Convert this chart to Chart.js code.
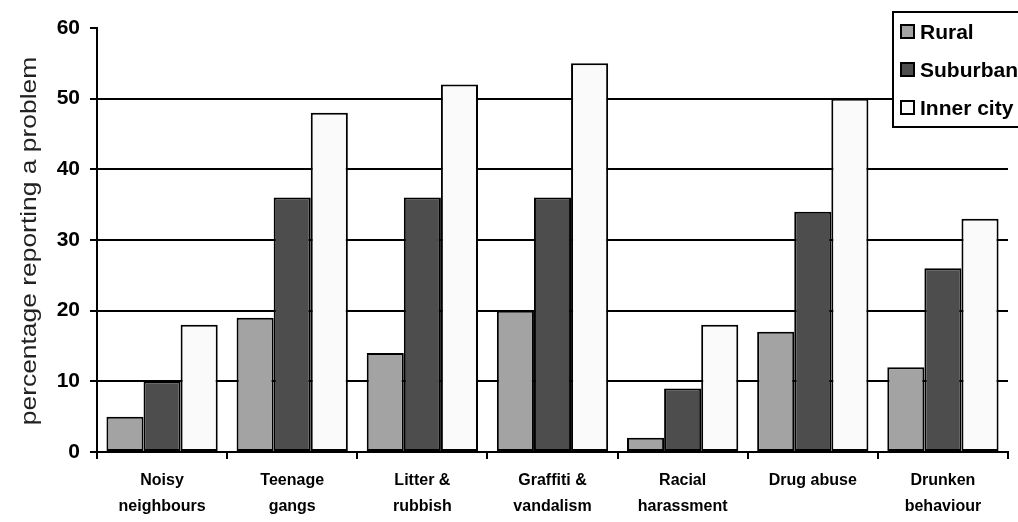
<!DOCTYPE html>
<html>
<head>
<meta charset="utf-8">
<script src="https://cdn.jsdelivr.net/npm/chart.js@4.4.1/dist/chart.umd.min.js"></script>
<style>
  html, body { margin: 0; padding: 0; background: #fff; }
  #wrap { width: 1018px; height: 522px; position: relative; }
</style>
</head>
<body>
<div id="wrap"><canvas id="c" width="1018" height="522"></canvas></div>
<script>
// Problems reported by area type (percent)
const categories = [
  ['Noisy', 'neighbours'],
  ['Teenage', 'gangs'],
  ['Litter &', 'rubbish'],
  ['Graffiti &', 'vandalism'],
  ['Racial', 'harassment'],
  ['Drug abuse'],
  ['Drunken', 'behaviour']
];
const rural    = [5, 19, 14, 20, 2, 17, 12];
const suburban = [10, 36, 36, 36, 9, 34, 26];
const innerCity = [18, 48, 52, 55, 18, 50, 33];
const yTicks = [0, 10, 20, 30, 40, 50, 60];
const yTitle = 'percentage reporting a problem';

const FONT = 'Arial, "Liberation Sans", Helvetica, sans-serif';

// Boxed legend drawn over the top-right corner of the plot
const boxLegend = {
  id: 'boxLegend',
  afterDraw(chart) {
    const ctx = chart.ctx;
    const x = 893, y = 12, w = 140, h = 115;
    ctx.save();
    ctx.fillStyle = '#fff';
    ctx.fillRect(x, y, w, h);
    ctx.lineWidth = 2;
    ctx.strokeStyle = '#000';
    ctx.strokeRect(x, y, w, h);
    const rows = [32, 70, 108];
    ctx.font = 'bold 21px ' + FONT;
    ctx.textBaseline = 'middle';
    chart.data.datasets.forEach((ds, i) => {
      const cy = rows[i];
      ctx.fillStyle = ds.backgroundColor;
      ctx.fillRect(901, cy - 7, 13, 13);
      ctx.lineWidth = 2;
      ctx.strokeStyle = '#000';
      ctx.strokeRect(901, cy - 7, 13, 13);
      ctx.fillStyle = '#000';
      ctx.fillText(ds.label, 920, cy + 1);
    });
    ctx.restore();
  }
};

// Rotated, slightly elongated value-axis title
const axisTitle = {
  id: 'axisTitle',
  afterDraw(chart) {
    const ctx = chart.ctx;
    ctx.save();
    ctx.translate(30, 241);
    ctx.rotate(-Math.PI / 2);
    ctx.scale(1.2, 1);
    ctx.font = '22px ' + FONT;
    ctx.fillStyle = '#222';
    ctx.textAlign = 'center';
    ctx.textBaseline = 'middle';
    ctx.fillText(yTitle, 0, 0);
    ctx.restore();
  }
};

new Chart(document.getElementById('c'), {
  type: 'bar',
  data: {
    labels: categories,
    datasets: [
      { label: 'Rural', data: rural, backgroundColor: '#a3a3a3' },
      { label: 'Suburban', data: suburban, backgroundColor: '#4d4d4d' },
      { label: 'Inner city', data: innerCity, backgroundColor: '#fafafa' }
    ]
  },
  options: {
    responsive: false,
    maintainAspectRatio: false,
    animation: false,
    devicePixelRatio: 1,
    layout: { padding: { left: 0, right: 10, top: 28, bottom: 0 } },
    datasets: {
      bar: {
        borderColor: '#000',
        borderWidth: 2,
        borderSkipped: false,
        categoryPercentage: 0.855,
        barPercentage: 1.0
      }
    },
    plugins: {
      legend: { display: false },
      tooltip: { enabled: false }
    },
    scales: {
      x: {
        grid: {
          offset: true,
          drawOnChartArea: false,
          drawTicks: true,
          tickLength: 7,
          tickWidth: 2,
          tickColor: '#000',
          lineWidth: 2,
          color: '#000'
        },
        border: { display: true, color: '#000', width: 2 },
        ticks: {
          color: '#000',
          font: { family: FONT, size: 16, weight: 'bold', lineHeight: 1.6 },
          padding: 9,
          maxRotation: 0,
          autoSkip: false
        },
        afterFit(scale) { scale.height = 70; }
      },
      y: {
        min: 0,
        max: 60,
        afterBuildTicks(scale) { scale.ticks = yTicks.map(v => ({ value: v })); },
        grid: {
          drawTicks: true,
          tickLength: 7,
          tickWidth: 2,
          tickColor: '#000',
          lineWidth: 2,
          color: (c) => (c.tick && (c.tick.value === 60 || c.tick.value === 0)) ? 'rgba(0,0,0,0)' : '#000'
        },
        border: { display: true, color: '#000', width: 2 },
        ticks: {
          color: '#000',
          autoSkip: false,
          font: { family: FONT, size: 21, weight: 'bold' },
          padding: 10
        },
        title: { display: false },
        afterFit(scale) { scale.width = 97; }
      }
    }
  },
  plugins: [boxLegend, axisTitle]
});
</script>
</body>
</html>
